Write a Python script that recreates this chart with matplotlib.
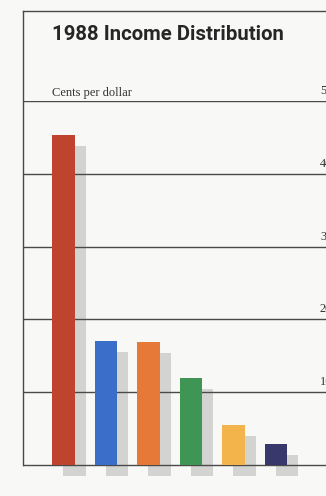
import matplotlib
matplotlib.use("Agg")
import matplotlib.pyplot as plt
from matplotlib import transforms
from matplotlib.lines import Line2D

# Data
groups = ["1", "2", "3", "4", "5", "6"]
cents = [45.3, 17.0, 16.9, 11.9, 5.5, 2.9]
colors = ["#bf4430", "#3b6ec9", "#e67838", "#3f9654", "#f4b44c", "#38386c"]
tick_values = [10, 20, 30, 40, 50]
tick_labels = ["10", "20", "30", "40", "50"]

W, H = 326, 496
DPI = 100
bg = "#f8f8f6"
line_col = "#4a4a4a"

plt.rcParams["hatch.color"] = "#e0e0de"
plt.rcParams["hatch.linewidth"] = 0.6

fig = plt.figure(figsize=(W / DPI, H / DPI), dpi=DPI, facecolor=bg)

# axes placement in pixels (from top-left)
ax_left, ax_right = 23, 326
ax_top, ax_bottom = 101, 480
ax = fig.add_axes([ax_left / W, 1 - ax_bottom / H,
                   (ax_right - ax_left) / W, (ax_bottom - ax_top) / H])
ax.set_facecolor("none")
ax.set_xlim(-0.953, 6.176)
ax.set_ylim(-2.06, 50)
for s in ax.spines.values():
    s.set_visible(False)
ax.set_xticks([])
ax.set_yticks([])

x = list(range(len(groups)))

# drop shadow behind each bar
shadow_tr = transforms.offset_copy(ax.transData, fig=fig, x=11, y=-11, units="dots")
ax.bar(x, cents, width=0.54, color="#d3d3d1", edgecolor="none",
       transform=shadow_tr, zorder=1, hatch="-----")

# grid lines and baseline
for v in [0] + tick_values:
    ax.axhline(v, color=line_col, lw=1.0, zorder=2)

# bars
ax.bar(x, cents, width=0.54, color=colors, edgecolor="none", zorder=3)

# right-hand value labels sitting on their lines (run off the right edge)
lab_tr = transforms.offset_copy(
    transforms.blended_transform_factory(ax.transAxes, ax.transData),
    fig=fig, x=0, y=4, units="dots")
for v, t in zip(tick_values, tick_labels):
    ax.text((320 - ax_left) / (ax_right - ax_left), v, t, transform=lab_tr,
            ha="left", va="bottom", fontsize=8.8, family="Liberation Serif",
            color="#333333", clip_on=False)

# frame: left rule and top rule
fig.add_artist(Line2D([ax_left / W, ax_left / W], [1 - 11 / H, 1 - 465 / H],
                      transform=fig.transFigure, color=line_col, lw=1.0))
fig.add_artist(Line2D([ax_left / W, 1.0], [1 - 11 / H, 1 - 11 / H],
                      transform=fig.transFigure, color=line_col, lw=1.0))

fig.text(52 / W, 1 - 35 / H, "1988 Income Distribution", ha="left", va="center",
         fontsize=14.7, fontweight="bold", family=["Roboto", "DejaVu Sans"],
         color="#262626")
fig.text(52 / W, 1 - 96 / H, "Cents per dollar", ha="left", va="baseline",
         fontsize=9, family="Liberation Serif", color="#333333")

fig.savefig("out.png", dpi=DPI, facecolor=bg)
